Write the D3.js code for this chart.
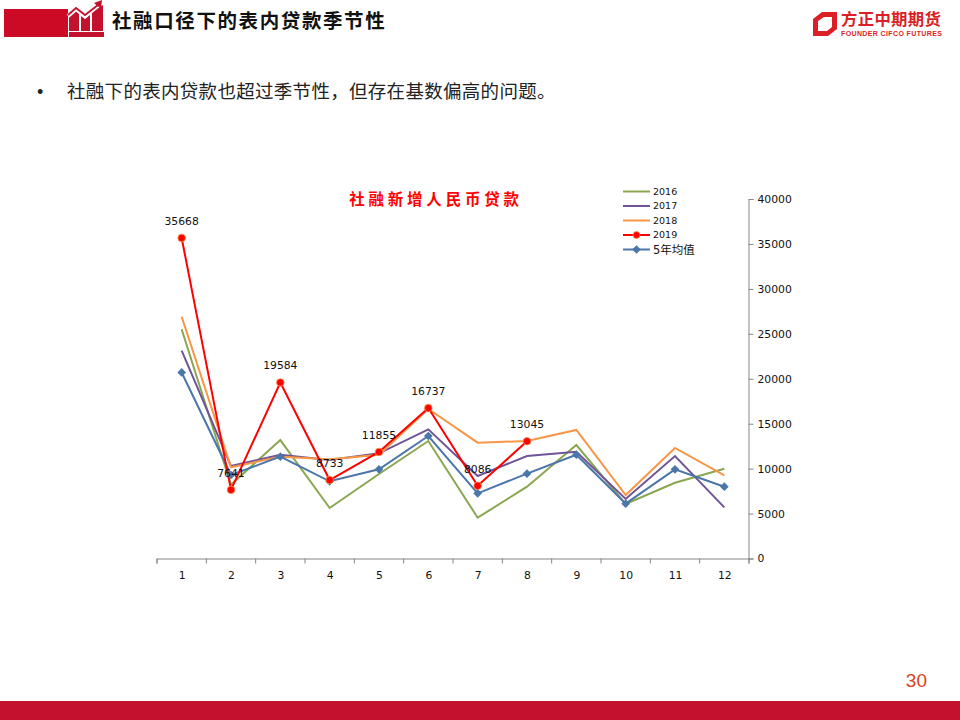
<!DOCTYPE html>
<html>
<head>
<meta charset="utf-8">
<script src="https://cdn.jsdelivr.net/npm/d3@7"></script>
<style>
html, body { margin: 0; padding: 0; background: #fff; }
svg { display: block; }
</style>
</head>
<body>
<svg id="chart"></svg>
<script>
const months = [1, 2, 3, 4, 5, 6, 7, 8, 9, 10, 11, 12];
const values2016 = [25500, 8200, 13180, 5620, 9400, 13070, 4540, 7990, 12630, 6060, 8430, 9990];
const values2017 = [23120, 10290, 11550, 10960, 11700, 14370, 9180, 11400, 11880, 6620, 11400, 5690];
const values2018 = [26900, 10150, 11330, 11030, 11550, 16630, 12890, 13070, 14300, 7060, 12300, 9260];
const values2019 = [35668, 7641, 19584, 8733, 11855, 16737, 8086, 13045];
const valuesAvg = [20700, 9290, 11330, 8590, 9920, 13630, 7250, 9440, 11550, 6100, 9920, 7990];
const yTicks = [0, 5000, 10000, 15000, 20000, 25000, 30000, 35000, 40000];
const seriesNames = ["2016", "2017", "2018", "2019", "5年均值"];
const seriesColors = ["#8aa64f", "#6f5497", "#f79646", "#ff0000", "#4a76a9"];

const width = 960, height = 720;
const cjk = "'Noto Sans CJK SC', 'Noto Sans', sans-serif";
const red = "#c4122e";

const svg = d3.select("#chart").attr("width", width).attr("height", height);

// header
svg.append("rect").attr("x", 4).attr("y", 9).attr("width", 64).attr("height", 28).attr("fill", "#cc0a26");
const icon = svg.append("g").attr("fill", red);
icon.append("rect").attr("x", 69).attr("y", 32).attr("width", 35).attr("height", 5);
icon.append("path").attr("d", "M69 31V17L76 11L79 14V31Z");
icon.append("path").attr("d", "M81 31V16L85 19L90 15V31Z");
icon.append("path").attr("d", "M92 31V12L103 5V31Z");
icon.append("path").attr("d", "M68 16L76 9L85 16L99 5").attr("fill", "none").attr("stroke", "#fff").attr("stroke-width", 4);
icon.append("path").attr("d", "M68 15L76 8L85 15L98 5").attr("fill", "none").attr("stroke", red).attr("stroke-width", 1.8);
icon.append("path").attr("d", "M94 3L102 0L101 9Z");

svg.append("text").attr("x", 112).attr("y", 28).attr("font-family", cjk).attr("font-weight", 700)
  .attr("font-size", 19.5).attr("letter-spacing", 1.6).attr("fill", "#111").text("社融口径下的表内贷款季节性");

// logo
svg.append("path").attr("fill-rule", "evenodd").attr("fill", "#dc1f26")
  .attr("d", "M822 12H837V29L828 36H813V19ZM824 17L818 21V31H827L832 27V17Z");
svg.append("text").attr("x", 841).attr("y", 25).attr("font-family", cjk).attr("font-weight", 700)
  .attr("font-size", 16.4).attr("letter-spacing", 0.3).attr("fill", "#dc1f26").text("方正中期期货");
svg.append("text").attr("x", 841).attr("y", 35.5).attr("font-family", "'Liberation Sans', sans-serif").attr("font-weight", 700)
  .attr("font-size", 7).attr("letter-spacing", 0.38).attr("fill", "#dc1f26").text("FOUNDER CIFCO FUTURES");

// bullet text
svg.append("text").attr("x", 37).attr("y", 98).attr("font-family", "'Liberation Sans', sans-serif")
  .attr("font-size", 18).attr("fill", "#222").text("•");
svg.append("text").attr("x", 67).attr("y", 98).attr("font-family", cjk).attr("font-size", 18.5)
  .attr("letter-spacing", 0.3).attr("fill", "#222").text("社融下的表内贷款也超过季节性，但存在基数偏高的问题。");

// footer
svg.append("rect").attr("x", 0).attr("y", 701).attr("width", 960).attr("height", 19).attr("fill", red);
svg.append("text").attr("x", 927).attr("y", 687).attr("text-anchor", "end").attr("font-family", "'Liberation Sans', sans-serif")
  .attr("font-size", 19).attr("fill", "#d8441c").text("30");

// chart
const x = d3.scaleLinear([0.5, 12.5], [156.5, 748.5]);
const y = d3.scaleLinear([0, 40000], [558.5, 199]);
const labelFont = "'DejaVu Sans', sans-serif";

const xAxisTicks = d3.axisBottom(x).tickValues(d3.range(0.5, 13, 1)).tickSize(5).tickFormat("");
const xAxisLabels = d3.axisBottom(x).tickValues(months).tickSize(0).tickPadding(13).tickFormat(d3.format("d"));
const yAxis = d3.axisRight(y).tickValues(yTicks).tickSize(5).tickPadding(4).tickFormat(d3.format("d"));

const gx = svg.append("g").attr("transform", "translate(0,558.5)").call(xAxisTicks);
const gxl = svg.append("g").attr("transform", "translate(0.5,558.5)").call(xAxisLabels);
gxl.select(".domain").remove();
const gy = svg.append("g").attr("transform", "translate(748.5,0)").call(yAxis);

[gx, gy].forEach(g => {
  g.select(".domain").attr("stroke", "#868686");
  g.selectAll(".tick line").attr("stroke", "#868686");
});
[gxl, gy].forEach(g => {
  g.selectAll("text").attr("font-family", labelFont).attr("font-size", 10.8).attr("fill", "#111");
});

const line = d3.line().x((d, i) => x(i + 1) + 0.5).y(d => y(d));
const allSeries = [values2016, values2017, values2018, valuesAvg, values2019];
const allColors = [seriesColors[0], seriesColors[1], seriesColors[2], seriesColors[4], seriesColors[3]];

allSeries.forEach((vals, i) => {
  svg.append("path").datum(vals).attr("fill", "none").attr("stroke", allColors[i])
    .attr("stroke-width", 2).attr("stroke-linejoin", "miter").attr("d", line);
});

const diamond = d3.symbol().type(d3.symbolSquare).size(38);
svg.append("g").selectAll("path").data(valuesAvg).join("path")
  .attr("d", diamond).attr("fill", seriesColors[4])
  .attr("transform", (d, i) => `translate(${x(i + 1) + 0.5},${y(d)}) rotate(45)`);

svg.append("g").selectAll("circle").data(values2019).join("circle")
  .attr("cx", (d, i) => x(i + 1) + 0.5).attr("cy", d => y(d)).attr("r", 3.8)
  .attr("fill", "#ff0000").attr("stroke", "#f79646").attr("stroke-width", 0.8);

svg.append("g").selectAll("text").data(values2019).join("text")
  .attr("x", (d, i) => x(i + 1) + 0.5).attr("y", d => y(d) - 13).attr("text-anchor", "middle")
  .attr("font-family", labelFont).attr("font-size", 10.8).attr("fill", "#111").text(d => d);

// chart title
svg.append("text").attr("x", 436).attr("y", 205).attr("text-anchor", "middle").attr("font-family", cjk)
  .attr("font-weight", 700).attr("font-size", 15.5).attr("letter-spacing", 3.8).attr("fill", "#ff0000").text("社融新增人民币贷款");

// legend
const legendY = d3.scalePoint(seriesNames, [191.5, 249.5]);
const legend = svg.append("g").selectAll("g").data(seriesNames).join("g")
  .attr("transform", d => `translate(623,${legendY(d)})`);
legend.append("line").attr("x1", 0).attr("x2", 27).attr("stroke", (d, i) => seriesColors[i]).attr("stroke-width", 2);
legend.filter(d => d === "2019").append("circle").attr("cx", 13.5).attr("r", 3.5)
  .attr("fill", "#ff0000").attr("stroke", "#f79646").attr("stroke-width", 0.8);
legend.filter(d => d === "5年均值").append("path").attr("d", diamond).attr("transform", "translate(13.5,0) rotate(45)").attr("fill", seriesColors[4]);
legend.append("text").attr("x", 30).attr("y", 0).attr("dy", "0.35em")
  .attr("font-family", "'DejaVu Sans', " + cjk).attr("font-size", 9.5).attr("fill", "#111").text(d => d);
legend.filter(d => d === "5年均值").select("text").attr("font-size", 11.5);
</script>
</body>
</html>
